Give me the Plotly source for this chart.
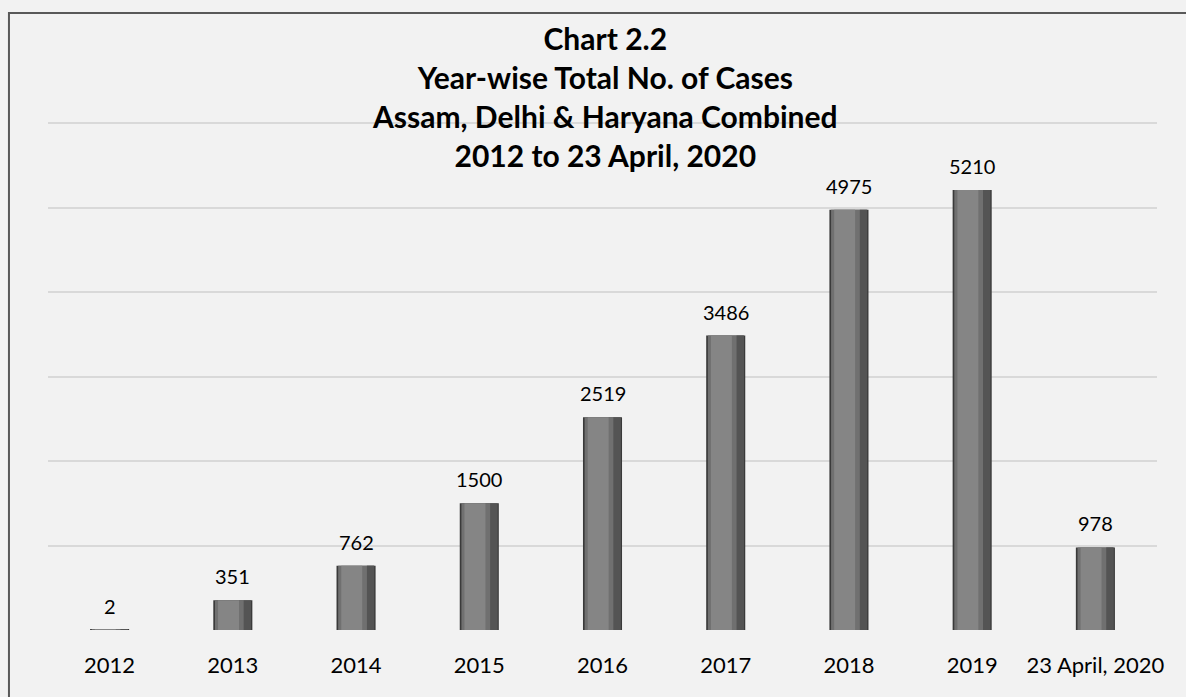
import plotly.graph_objects as go

YEARS = ["2012", "2013", "2014", "2015", "2016", "2017", "2018", "2019", "23 April, 2020"]
CASES = [2, 351, 762, 1500, 2519, 3486, 4975, 5210, 978]

TITLE = "Chart 2.2<br>Year-wise Total No. of Cases<br>Assam, Delhi & Haryana Combined<br>2012 to 23 April, 2020"
FONT = "Lato, Calibri, Carlito, sans-serif"
BG = "#f2f2f2"

# bevelled bar look built from overlaid layers: (width, offset, colour)
LAYERS = [
    (0.317, None, "#3a3a3a"),
    (0.29, None, "#707070"),
    (0.17, -0.12, "#858585"),
    (0.06, 0.088, "#545454"),
]

fig = go.Figure()
for width, offset, color in LAYERS:
    fig.add_trace(go.Bar(
        x=YEARS, y=CASES, width=width, offset=offset, marker_color=color,
        marker_line_width=0, hoverinfo="skip",
    ))

# value labels sit above each bar; on a category axis the annotation x is the category index
labels = [
    {"x": i, "y": v, "text": str(v), "xref": "x", "yref": "y",
     "yanchor": "bottom", "yshift": 10, "showarrow": False,
     "font": {"size": 20, "family": FONT, "color": "#000000"}}
    for i, v in enumerate(CASES)
]

fig.update_layout(
    width=1186, height=697,
    barmode="overlay", showlegend=False,
    paper_bgcolor=BG, plot_bgcolor=BG,
    margin={"l": 48, "r": 29, "t": 122, "b": 67},
    font={"family": FONT, "color": "#000000"},
    annotations=labels + [{
        "text": f"<b>{TITLE}</b>", "xref": "paper", "yref": "paper",
        "x": 0.502, "y": 1.05, "xanchor": "center", "yanchor": "middle",
        "showarrow": False, "font": {"size": 30, "family": FONT, "color": "#000000"},
    }],
    shapes=[{
        "type": "rect", "xref": "paper", "yref": "paper",
        "x0": -0.0352, "x1": 1.2, "y0": -0.5, "y1": 1.2146,
        "line": {"color": "#595959", "width": 2}, "layer": "below",
    }],
)
fig.update_xaxes(
    type="category", range=[-0.5, len(YEARS) - 0.5],
    showgrid=False, showline=False, zeroline=False,
    ticks="outside", ticklen=16, tickcolor="rgba(0,0,0,0)",
    tickfont={"size": 22, "family": FONT, "color": "#000000"},
)
fig.update_yaxes(
    range=[0, 6015], tickvals=[0, 1000, 2000, 3000, 4000, 5000, 6000],
    showticklabels=False,
    gridcolor="#d9d9d9", gridwidth=2, zeroline=False, showline=False,
)

fig.write_html("out.html", config={"displayModeBar": False},
               post_script="document.body.style.margin='0';")
